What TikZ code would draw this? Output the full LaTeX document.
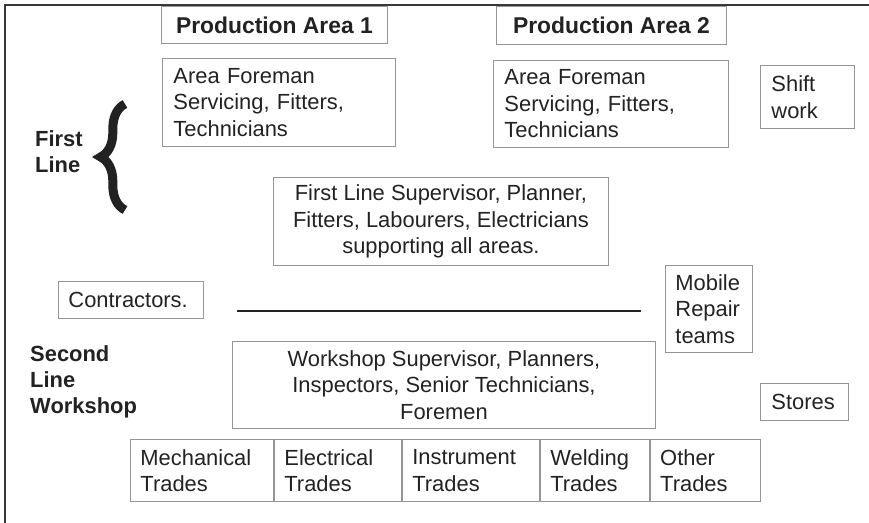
\documentclass[tikz,border=0pt]{standalone}
\usepackage{fontspec}
\setmainfont{Liberation Sans}
\usetikzlibrary{positioning,decorations.pathreplacing}

\definecolor{boxgray}{HTML}{959595}
\definecolor{ink}{HTML}{222222}

\begin{document}
\begin{tikzpicture}[
        x=0.3mm, y=-0.3mm,
        every node/.style={text=ink, font=\fontsize{18.7}{22.6}\selectfont},
        unit/.style={rectangle, draw=boxgray, line width=0.8pt, anchor=north west, inner xsep=3.3mm, inner ysep=0pt, align=left},
        head/.style={unit, align=center, font=\fontsize{19.5}{22.6}\selectfont\bfseries},
        trade/.style={unit, inner xsep=3mm, minimum height=18.6mm},
        level/.style={anchor=west, align=left, inner sep=0pt, font=\fontsize{18.7}{22}\selectfont\bfseries},
        frame/.style={draw=ink!90, line width=0.6mm},
        divider/.style={draw=ink, line width=0.6mm}
      ]

      \useasboundingbox (0,0) rectangle (869,523);
      \draw[frame] (5,523) |- (869,5);

      % Production areas
      \node[head, minimum width=67.8mm, minimum height=11.1mm] (area1) at (161,6) {Production Area 1};
      \node[head, minimum width=69mm, minimum height=11.4mm] (area2) at (496,6) {Production Area 2};

      % First line
      \node[unit, text width=63.3mm, minimum height=26.4mm] (fore1) at (162,58) {Area Foreman\\Servicing, Fitters,\\Technicians};
      \node[unit, text width=63.9mm, minimum height=26.1mm] (fore2) at (493,60) {Area Foreman\\Servicing, Fitters,\\Technicians};
      \node[unit, text width=21.6mm, minimum height=18.9mm] (shift) at (760,65) {Shift\\work};
      \node[unit, align=center, minimum width=100.5mm, minimum height=26.4mm] (super1) at (273,177) {First Line Supervisor, Planner,\\Fitters, Labourers, Electricians\\supporting all areas.};

      \node[level] (first) at (35,152) {First\\Line};
      \draw[decorate, decoration={brace, amplitude=7.3mm}, line width=2.7mm, ink] (125,210) -- (125,104);

      % Between the lines
      \node[unit, inner xsep=3mm, text width=37.5mm, minimum height=11.1mm] (contr) at (58,281) {Contractors.};
      \node[unit, inner xsep=3mm, text width=20.1mm, minimum height=26.1mm] (mobile) at (665,265) {Mobile\\Repair\\teams};
      \coordinate (divL) at (237,311);
      \coordinate (divR) at (641,311);
      \draw[divider] (divL) -- (divR);

      % Second line
      \node[level] (second) at (30,382) {Second\\Line\\Workshop};
      \node[unit, align=center, minimum width=126.9mm, minimum height=26.1mm] (super2) at (232,341) {Workshop Supervisor, Planners,\\Inspectors, Senior Technicians,\\Foremen};
      \node[unit, text width=19.8mm, minimum height=11.1mm] (stores) at (760,383) {Stores};

      % Trades
      \node[trade, text width=36.9mm] (mech) at (130,439) {Mechanical\\Trades};
      \node[trade, text width=32.1mm, right=0pt of mech] (elec) {Electrical\\Trades};
      \node[trade, text width=35.1mm, right=0pt of elec] (instr) {Instrument\\Trades};
      \node[trade, text width=26.7mm, right=0pt of instr] (weld) {Welding\\Trades};
      \node[trade, text width=27mm, right=0pt of weld] (other) {Other\\Trades};

    \end{tikzpicture}
\end{document}
